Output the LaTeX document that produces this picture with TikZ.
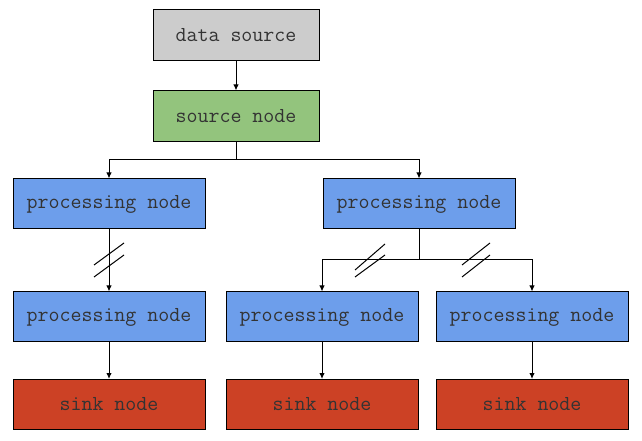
\documentclass[tikz,border=0pt]{standalone}
\usepackage{fontspec}
\usetikzlibrary{arrows.meta}
\definecolor{cgray}{HTML}{CCCCCC}
\definecolor{cgreen}{HTML}{93C47D}
\definecolor{cblue}{HTML}{6D9EEB}
\definecolor{cred}{HTML}{CC4125}
\definecolor{ctext}{HTML}{333333}
\newcommand{\lbltxt}[1]{\raisebox{-1.5pt}{#1}}
\begin{document}
\begin{tikzpicture}[x=0.75pt,y=-0.75pt,
  box/.style={draw=black, line width=0.75pt, inner sep=0pt, text=ctext,
    font=\ttfamily\fontsize{16pt}{18pt}\selectfont},
  wide/.style={box, minimum width=192*0.75pt, minimum height=50*0.75pt},
  narrow/.style={box, minimum width=166*0.75pt, minimum height=51*0.75pt},
  conn/.style={line width=0.75pt, -{Latex[length=4.5pt,width=4pt]}},
  plain/.style={line width=0.75pt},
  slash/.style={line width=0.75pt}]
\useasboundingbox (0,0) rectangle (642,441);
\fill[white] (0,0) rectangle (642,441);
\node[narrow, fill=cgray] (ds) at (236,35.5) {\lbltxt{data source}};
\node[narrow, fill=cgreen] (sn) at (236,116.5) {\lbltxt{source node}};
\node[wide, fill=cblue] (pl) at (109,204) {\lbltxt{processing node}};
\node[wide, fill=cblue] (pr) at (419,204) {\lbltxt{processing node}};
\node[wide, fill=cblue] (p1) at (109,317) {\lbltxt{processing node}};
\node[wide, fill=cblue] (p2) at (322,317) {\lbltxt{processing node}};
\node[wide, fill=cblue] (p3) at (532,317) {\lbltxt{processing node}};
\node[wide, fill=cred] (s1) at (109,404.5) {\lbltxt{sink node}};
\node[wide, fill=cred] (s2) at (322,404.5) {\lbltxt{sink node}};
\node[wide, fill=cred] (s3) at (532,404.5) {\lbltxt{sink node}};
\coordinate (j1) at (236,160);
\coordinate (j2) at (419,260);
\draw[conn] (ds) -- (sn);
\draw[plain] (sn) -- (j1);
\draw[conn] (j1) -| (pl);
\draw[conn] (j1) -| (pr);
\draw[conn] (pl) -- (p1);
\draw[plain] (pr) -- (j2);
\draw[conn] (j2) -| (p2);
\draw[conn] (j2) -| (p3);
\draw[conn] (p1) -- (s1);
\draw[conn] (p2) -- (s2);
\draw[conn] (p3) -- (s3);
% slash marks
\draw[slash] (94,265) -- (124,243);
\draw[slash] (94,277) -- (124,255);
\draw[slash] (355,270) -- (385,244);
\draw[slash] (355,277) -- (385,255);
\draw[slash] (462,265) -- (490,243);
\draw[slash] (462,277) -- (490,255);
\end{tikzpicture}
\end{document}
